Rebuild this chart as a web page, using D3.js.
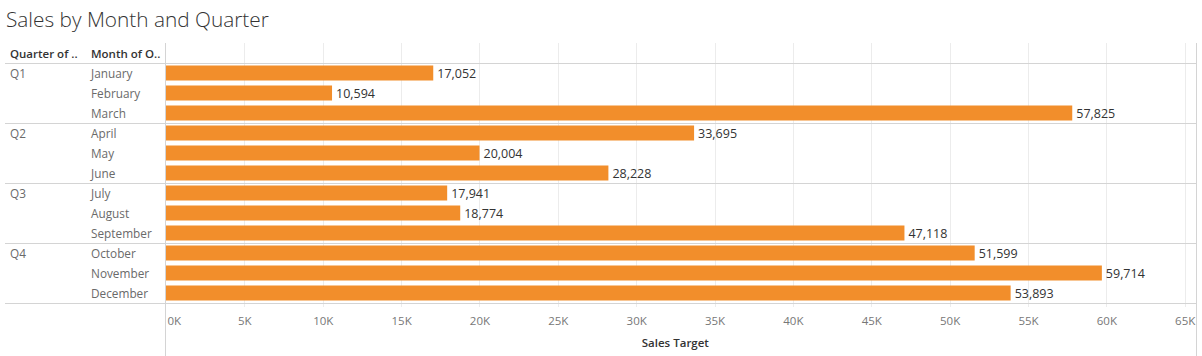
<!DOCTYPE html>
<html><head><meta charset="utf-8">
<script src="https://cdn.jsdelivr.net/npm/d3@7"></script>
<style>
body{margin:0;background:#fff;}
svg{display:block;font-family:"Open Sans",sans-serif;}
</style></head>
<body><svg id="c" width="1202" height="356"></svg>
<script>
const quarters = ["Q1","Q2","Q3","Q4"];
const months = ["January","February","March","April","May","June","July","August","September","October","November","December"];
const monthQuarter = ["Q1","Q1","Q1","Q2","Q2","Q2","Q3","Q3","Q3","Q4","Q4","Q4"];
const salesTarget = [17052,10594,57825,33695,20004,28228,17941,18774,47118,51599,59714,53893];
const tickValues = [0,5000,10000,15000,20000,25000,30000,35000,40000,45000,50000,55000,60000,65000];

(function(){
const svg = d3.select("#c");
const topY = 63, rowH = 20, left = 165.5, right = 1197;
const x = d3.scaleLinear().domain([0,65000]).range([left+0.5, 1184.7]);
const y = d3.scaleBand().domain(months).range([topY, topY + rowH*months.length]).paddingInner(0.25).paddingOuter(0.125);
const bottom = topY + rowH*months.length;

// title
svg.append("text").attr("x",6).attr("y",27).attr("font-size",20.8).attr("fill","#333")
  .attr("font-weight",300).text("Sales by Month and Quarter");

// gridlines
svg.append("g").selectAll("line").data(tickValues.slice(1)).join("line")
  .attr("x1",d=>Math.round(x(d))+0.5).attr("x2",d=>Math.round(x(d))+0.5)
  .attr("y1",43).attr("y2",bottom+4).attr("stroke","#ececec").attr("stroke-width",1);

// header
svg.append("text").attr("x",10).attr("y",58).attr("font-size",11.5).attr("font-weight",600).attr("fill","#333").text("Quarter of ..");
svg.append("text").attr("x",91).attr("y",58).attr("font-size",11.5).attr("font-weight",600).attr("fill","#333").text("Month of O..");

// horizontal separators
const seps = [topY, topY+60, topY+120, topY+180, bottom];
svg.append("g").selectAll("line").data(seps).join("line")
  .attr("x1",5).attr("x2",right).attr("y1",d=>d+0.5).attr("y2",d=>d+0.5)
  .attr("stroke","#d4d4d4").attr("stroke-width",1);

// vertical lines
svg.append("line").attr("x1",165.5).attr("x2",165.5).attr("y1",43).attr("y2",356).attr("stroke","#d4d4d4");
svg.append("line").attr("x1",1196.5).attr("x2",1196.5).attr("y1",43).attr("y2",356).attr("stroke","#d4d4d4");

// bars
svg.append("g").selectAll("rect").data(months).join("rect")
  .attr("x",x(0)).attr("y",d=>y(d)).attr("height",y.bandwidth())
  .attr("width",(d,i)=>x(salesTarget[i])-x(0)).attr("fill","#F28E2B");

// value labels
svg.append("g").selectAll("text").data(months).join("text")
  .attr("x",(d,i)=>x(salesTarget[i])+4).attr("y",d=>y(d)+y.bandwidth()/2)
  .attr("dy","0.4em").attr("font-size",12.5).attr("fill","#333")
  .text((d,i)=>d3.format(",")(salesTarget[i]));

// month labels
svg.append("g").selectAll("text").data(months).join("text")
  .attr("x",91).attr("y",d=>y(d)+y.bandwidth()/2).attr("dy","0.45em")
  .attr("font-size",11.8).attr("fill","#6a6a6a").text(d=>d);

// quarter labels
svg.append("g").selectAll("text").data(quarters).join("text")
  .attr("x",10).attr("y",q=>{const m=months[monthQuarter.indexOf(q)];return y(m)+y.bandwidth()/2;}).attr("dy","0.45em")
  .attr("font-size",11.8).attr("fill","#6a6a6a").text(q=>q);

// x axis
const axis = d3.axisBottom(x).tickValues(tickValues).tickSize(0).tickPadding(0).tickFormat(d=>(d/1000)+"K");
const ag = svg.append("g").attr("transform",`translate(0,${bottom+14})`).call(axis);
ag.select(".domain").remove();
ag.selectAll("text").attr("font-size",11.5).attr("fill","#777").attr("font-family","'Open Sans',sans-serif").attr("dy","0.71em");
ag.selectAll("text").filter(d=>d===0).attr("text-anchor","start").attr("x",1);

svg.append("text").attr("x",(x(0)+x(65000))/2).attr("y",347).attr("text-anchor","middle")
  .attr("font-size",11.5).attr("font-weight",600).attr("fill","#333").text("Sales Target");
})();
</script></body></html>
